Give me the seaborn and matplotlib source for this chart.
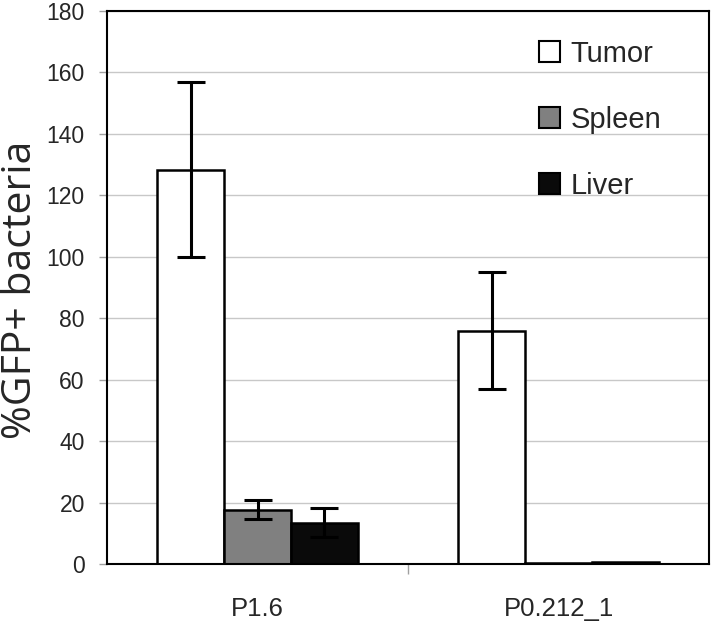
import numpy as np
import pandas as pd
import matplotlib
matplotlib.use("Agg")
import matplotlib.pyplot as plt
import seaborn as sns

# datos
strains = ["P1.6", "P0.212_1"]
organs = ["Tumor", "Spleen", "Liver"]
tumor = [128.3, 76.0]
spleen = [17.7, 0.3]
liver = [13.5, 0.8]
tumor_err = [28.5, 19.0]
spleen_err = [3.2, 0.0]
liver_err = [4.8, 0.0]
yticks = list(range(0, 181, 20))

colores = ["#ffffff", "#808080", "#0a0a0a"]

df = pd.DataFrame({
    "strain": strains * 3,
    "organ": np.repeat(organs, len(strains)),
    "value": tumor + spleen + liver,
    "err": tumor_err + spleen_err + liver_err,
})

sns.set_style("white")
plt.rcParams["font.family"] = ["Liberation Sans", "DejaVu Sans"]

fig = plt.figure(figsize=(7.11, 6.25), dpi=100)
ax = fig.add_axes([107 / 711, 61 / 625, 602 / 711, 553 / 625])

sns.barplot(data=df, x="strain", y="value", hue="organ", order=strains,
            hue_order=organs, palette=colores, errorbar=None, width=0.667,
            gap=0, edgecolor="black", linewidth=1.8, saturation=1, ax=ax)

# barras de error sobre cada barra
for cont, org in zip(ax.containers, organs):
    sub = df[df["organ"] == org].set_index("strain").loc[strains]
    xs = [p.get_x() + p.get_width() / 2 for p in cont.patches]
    hs = [p.get_height() for p in cont.patches]
    errs = sub["err"].values
    mask = errs > 0
    ax.errorbar(np.array(xs)[mask], np.array(hs)[mask], yerr=errs[mask],
                fmt="none", ecolor="black", elinewidth=2.2, capsize=10,
                capthick=2.2, zorder=5)

ax.set_xlim(-0.5, 1.5)
ax.set_ylim(0, 180)
ax.set_yticks(yticks)
ax.yaxis.grid(True, color="#c8c8c8", linewidth=1)
ax.set_axisbelow(True)
for s in ax.spines.values():
    s.set_visible(True)
    s.set_color("black")
    s.set_linewidth(1.5)

ax.tick_params(axis="y", labelsize=16.5, length=6, width=1, color="#a0a0a0",
               direction="out", left=True, pad=10)
ax.tick_params(axis="x", labelsize=18.5, length=0, pad=24)
ax.set_xticks([0.5], minor=True)
ax.tick_params(axis="x", which="minor", length=7, width=1, color="#a0a0a0",
               direction="out", bottom=True)

ax.set_xlabel("")
ax.set_ylabel("")
fig.text(21 / 711, 335 / 625, "%GFP+ bacteria", fontsize=29.5, rotation=90,
         ha="center", va="center", family=["Open Sans", "DejaVu Sans"])

leg = ax.legend(loc="upper right", frameon=False, fontsize=21, handlelength=0.72,
                handleheight=0.72, handletextpad=0.35, labelspacing=1.3,
                borderaxespad=0, bbox_to_anchor=(0.94, 0.969))
for h in leg.legend_handles:
    h.set_edgecolor("black")
    h.set_linewidth(1.5)

plt.savefig("out.png", dpi=100)
